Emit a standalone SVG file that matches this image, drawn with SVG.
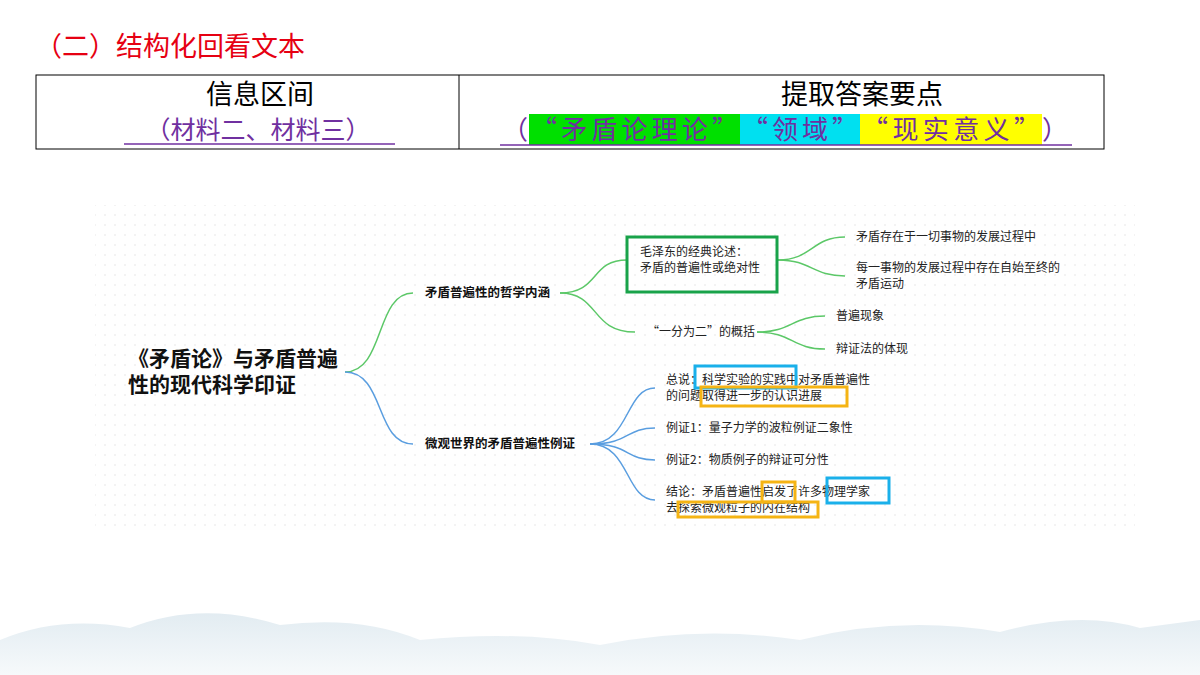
<svg xmlns="http://www.w3.org/2000/svg" width="1200" height="675" viewBox="0 0 1200 675">
<defs>
<pattern id="dots" width="10" height="10" patternUnits="userSpaceOnUse"><circle cx="5" cy="5" r="0.7" fill="#dcdcdc"/></pattern>
<linearGradient id="mt" x1="0" y1="0" x2="0" y2="1"><stop offset="0" stop-color="#dbe7ee"/><stop offset="1" stop-color="#f4f8fa"/></linearGradient>
<style>
text{font-family:"Noto Sans CJK SC","Noto Sans",sans-serif;}
.s{font-size:12px;fill:#222}
.b{font-size:12.5px;font-weight:bold;fill:#111}
.g{fill:none;stroke:#5cc868;stroke-width:1.5}
.bl{fill:none;stroke:#5a9ee0;stroke-width:1.5}
.hb{fill:none;stroke:#1ab0ea;stroke-width:3}
.hy{fill:none;stroke:#f5b414;stroke-width:3}
.h{font-size:26px;fill:#7030a0}
</style>
</defs>
<rect width="1200" height="675" fill="#fff"/>
<path d="M0 675 L0 640 Q60 615 130 628 Q200 600 280 625 Q360 615 420 640 Q520 630 600 645 Q700 625 800 640 Q900 615 1000 632 Q1080 610 1140 628 L1200 620 L1200 675Z" fill="url(#mt)" opacity="0.8"/>
<text x="35" y="56" font-size="27" fill="#e60012">（二）结构化回看文本</text>
<g id="table">
<rect x="36" y="75" width="1068" height="74" fill="none" stroke="#000" stroke-width="1"/>
<line x1="459" y1="75" x2="459" y2="149" stroke="#000"/>
<text x="260" y="104" font-size="27" text-anchor="middle" fill="#000">信息区间</text>
<text x="258" y="139" font-size="25" text-anchor="middle" fill="#7030a0">（材料二、材料三）</text>
<line x1="124" y1="144" x2="395" y2="144" stroke="#7030a0" stroke-width="1.5"/>
<text x="862" y="104" font-size="27" text-anchor="middle" fill="#000">提取答案要点</text>
<rect x="529" y="114" width="211" height="31" fill="#00e000"/>
<rect x="740" y="114" width="120" height="31" fill="#00e0f0"/>
<rect x="860" y="114" width="182" height="31" fill="#ffff00"/>
<text class="h" x="502" y="139">（</text>
<text class="h" x="531" y="139" textLength="207" lengthAdjust="spacing">“矛盾论理论”</text>
<text class="h" x="742" y="139" textLength="116" lengthAdjust="spacing">“领域”</text>
<text class="h" x="862" y="139" textLength="178" lengthAdjust="spacing">“现实意义”</text>
<text class="h" x="1042" y="139">）</text>
<line x1="500" y1="145" x2="1072" y2="145" stroke="#7030a0" stroke-width="1.5"/>
</g>
<rect x="95" y="205" width="1040" height="322" fill="url(#dots)"/>
<g id="connectors">
<path class="g" d="M345 372 C385 372 375 293 413 293"/>
<path class="bl" d="M345 372 C385 372 375 444 413 444"/>
<path class="g" d="M560 293 C600 293 590 260 627 260"/>
<path class="g" d="M560 293 C600 293 590 332 635 332"/>
<path class="g" d="M778 260 C812 260 812 237 845 237"/>
<path class="g" d="M778 260 C812 260 812 276 845 276"/>
<path class="g" d="M757 332 C792 332 792 316 825 316"/>
<path class="g" d="M757 332 C792 332 792 349 825 349"/>
<path class="bl" d="M590 444 C630 444 625 388 655 388"/>
<path class="bl" d="M590 444 C630 444 625 428 655 428"/>
<path class="bl" d="M590 444 C630 444 625 460 655 460"/>
<path class="bl" d="M590 444 C630 444 625 500 655 500"/>
</g>
<g id="root"><text x="128" y="366" font-size="21" font-weight="bold" fill="#111">《矛盾论》与矛盾普遍</text><text x="128" y="392" font-size="21" font-weight="bold" fill="#111">性的现代科学印证</text></g>
<g id="n1"><text class="b" x="425" y="297">矛盾普遍性的哲学内涵</text></g>
<g id="n2"><text class="b" x="425" y="448">微观世界的矛盾普遍性例证</text></g>
<g id="n11"><rect x="627" y="237" width="150" height="55" fill="none" stroke="#19a34a" stroke-width="3"/><text class="s" x="640" y="256">毛泽东的经典论述：</text><text class="s" x="640" y="272">矛盾的普遍性或绝对性</text></g>
<g id="n111"><text class="s" x="856" y="241">矛盾存在于一切事物的发展过程中</text></g>
<g id="n112"><text class="s" x="856" y="272">每一事物的发展过程中存在自始至终的</text><text class="s" x="856" y="288">矛盾运动</text></g>
<g id="n12"><text class="s" x="647" y="336">“一分为二”的概括</text></g>
<g id="n121"><text class="s" x="836" y="320">普遍现象</text></g>
<g id="n122"><text class="s" x="836" y="353">辩证法的体现</text></g>
<g id="n21"><text class="s" x="666" y="384">总说：科学实验的实践中对矛盾普遍性</text><text class="s" x="666" y="400">的问题取得进一步的认识进展</text>
<rect class="hb" x="695" y="366" width="101" height="22"/><rect class="hy" x="701" y="387" width="146" height="19"/></g>
<g id="n22"><text class="s" x="666" y="432">例证1：量子力学的波粒例证二象性</text></g>
<g id="n23"><text class="s" x="666" y="464">例证2：物质例子的辩证可分性</text></g>
<g id="n24"><text class="s" x="666" y="496">结论：矛盾普遍性启发了许多物理学家</text><text class="s" x="666" y="512">去探索微观粒子的内在结构</text>
<rect class="hy" x="762" y="482" width="33" height="20"/><rect class="hb" x="827" y="478" width="62" height="25"/><rect class="hy" x="678" y="502" width="140" height="15"/></g>
</svg>
